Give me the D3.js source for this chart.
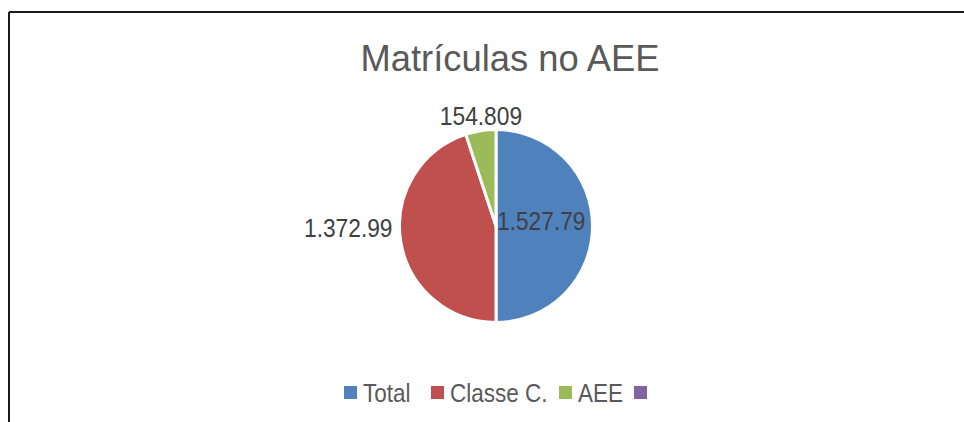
<!DOCTYPE html>
<html>
<head>
<meta charset="utf-8">
<script src="https://cdn.jsdelivr.net/npm/d3@7"></script>
<style>
  body { margin: 0; background: #fff; }
  text { font-family: "Liberation Sans", Arial, sans-serif; }
</style>
</head>
<body>
<div id="chart"></div>
<script>
// data
const categories = ["Total", "Classe C.", "AEE", ""];
const values = [1527790, 1372990, 154809, 0];
const labels = ["1.527.79", "1.372.99", "154.809", ""];
const colors = ["#4F81BD", "#C0504D", "#9BBB59", "#8064A2"];

const width = 964, height = 422;
const cx = 496, cy = 226, radius = 96.5;

const svg = d3.select("#chart")
  .append("svg")
  .attr("width", width)
  .attr("height", height);

// frame (only top and left edges show)
svg.append("line")
  .attr("x1", 9).attr("x2", width)
  .attr("y1", 12).attr("y2", 12)
  .attr("stroke", "#1a1a1a").attr("stroke-width", 2);
svg.append("line")
  .attr("x1", 9).attr("x2", 9)
  .attr("y1", 12).attr("y2", height)
  .attr("stroke", "#1a1a1a").attr("stroke-width", 2);

// narrow text helper: the source font is a bit condensed
const squeeze = (sel, x, y, s) => sel.attr("transform", `translate(${x},${y}) scale(${s},1)`);

// title
svg.append("text")
  .call(squeeze, 510, 71, 0.97)
  .attr("text-anchor", "middle")
  .attr("font-size", 37.5)
  .attr("fill", "#595959")
  .text("Matrículas no AEE");

const data = categories.map((c, i) => ({ name: c, value: values[i], label: labels[i], color: colors[i] }));

const pie = d3.pie()
  .sort(null)
  .value(d => d.value);

const arc = d3.arc()
  .innerRadius(0)
  .outerRadius(radius);

const arcs = pie(data);

const g = svg.append("g")
  .attr("transform", `translate(${cx},${cy})`);

g.selectAll("path.slice")
  .data(arcs.filter(d => d.data.value > 0))
  .join("path")
  .attr("class", "slice")
  .attr("d", arc)
  .attr("fill", d => d.data.color)
  .attr("stroke", "#fff")
  .attr("stroke-width", 3)
  .attr("stroke-linejoin", "round");

// data labels: Total sits inside, the others outside
const labelArcOut = d3.arc().innerRadius(radius * 1.18).outerRadius(radius * 1.18);
const labelXY = d => {
  if (d.data.name === "Total") return [1, 4];
  if (d.data.name === "AEE") return [labelArcOut.centroid(d)[0] + 3, -radius - 5];
  return [-radius - 7, 11];
};

g.selectAll("text.lbl")
  .data(arcs.filter(d => d.data.value > 0))
  .join("text")
  .attr("class", "lbl")
  .each(function(d) {
    const [x, y] = labelXY(d);
    d3.select(this).call(squeeze, x, y, 0.91);
  })
  .attr("font-size", 25)
  .attr("fill", "#404040")
  .attr("text-anchor", d => d.data.name === "Total" ? "start" : (d.data.name === "AEE" ? "middle" : "end"))
  .text(d => d.data.label);

// legend
const legendX = [344, 431, 559, 634];
const legend = svg.append("g").attr("class", "legend");
const items = legend.selectAll("g")
  .data(data)
  .join("g")
  .attr("transform", (d, i) => `translate(${legendX[i]},386)`);
items.append("rect")
  .attr("width", 13).attr("height", 13)
  .attr("fill", d => d.color);
items.append("text")
  .call(squeeze, 19, 16, 0.9)
  .attr("font-size", 25)
  .attr("fill", "#595959")
  .text(d => d.name);
</script>
</body>
</html>
